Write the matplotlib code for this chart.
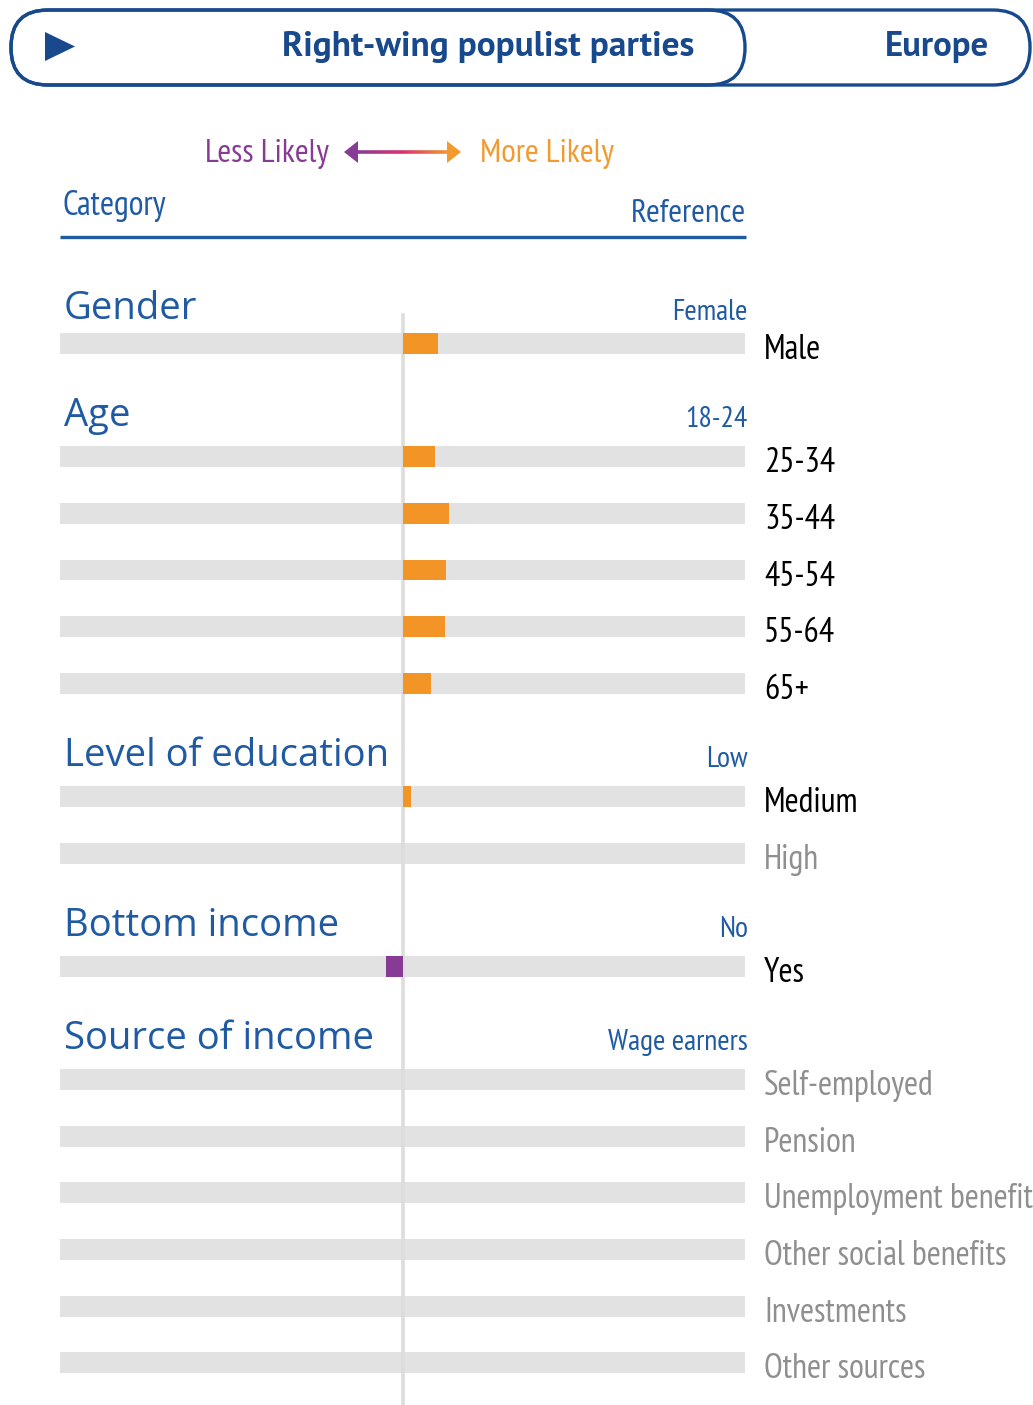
import numpy as np
import matplotlib
matplotlib.use("Agg")
import matplotlib.pyplot as plt
from matplotlib import font_manager, transforms
from matplotlib.patches import FancyBboxPatch, Polygon
from matplotlib.collections import LineCollection
from matplotlib.colors import LinearSegmentedColormap

# ---------------- data ----------------
title = "Right-wing populist parties"
region = "Europe"
groups = ["Gender", "Age", "Level of education", "Bottom income", "Source of income"]
references = ["Female", "18-24", "Low", "No", "Wage earners"]
gender_items = ["Male"]
gender_vals = [0.104]
age_items = ["25-34", "35-44", "45-54", "55-64", "65+"]
age_vals = [0.096, 0.137, 0.126, 0.125, 0.084]
edu_items = ["Medium", "High"]
edu_vals = [0.025, 0.0]
bottom_items = ["Yes"]
bottom_vals = [-0.049]
source_items = ["Self-employed", "Pension", "Unemployment benefit",
                "Other social benefits", "Investments", "Other sources"]
source_vals = [0.0, 0.0, 0.0, 0.0, 0.0, 0.0]

group_items = [gender_items, age_items, edu_items, bottom_items, source_items]
group_vals = [gender_vals, age_vals, edu_vals, bottom_vals, source_vals]

# ---------------- fonts ----------------
avail = {f.name for f in font_manager.fontManager.ttflist}


def pick(cands):
    for c in cands:
        if c in avail:
            return c
    return "DejaVu Sans"


NARROW = pick(["PT Sans Narrow", "Fira Sans Condensed", "Roboto Condensed",
               "Liberation Sans Narrow"])
HEAD = pick(["Open Sans", "Noto Sans"])
TITLEF = pick(["PT Sans", "Fira Sans", "Open Sans"])

BLUE = "#1f5aa3"
DARK = "#17498c"
ORANGE = "#f39427"
PURPLE = "#873b94"
GREYBAR = "#e2e2e2"
GREYTXT = "#8f8f8f"

W, H = 1033, 1405
fig = plt.figure(figsize=(W / 100, H / 100), dpi=100)
fig.patch.set_facecolor("white")

bg = fig.add_axes([0, 0, 1, 1])
bg.set_xlim(0, W)
bg.set_ylim(H, 0)
bg.axis("off")

# ---- header pill ----
outer = FancyBboxPatch((11, 10), 1019, 75, boxstyle="round,pad=0,rounding_size=37",
                       fc="none", ec=DARK, lw=2.4, zorder=2)
inner = FancyBboxPatch((11, 10), 734, 75, boxstyle="round,pad=0,rounding_size=37",
                       fc="none", ec=DARK, lw=2.4, zorder=3)
bg.add_patch(outer)
bg.add_patch(inner)
bg.add_patch(Polygon([[45, 32], [45, 61], [75, 46.5]], closed=True, fc=DARK, ec="none"))
bg.text(488, 47, title, ha="center", va="center", fontsize=25.5, fontweight="bold",
        family=TITLEF, color=DARK)
bg.text(937, 47, region, ha="center", va="center", fontsize=25, fontweight="bold",
        family=TITLEF, color=DARK)

# ---- likelihood arrow ----
bg.text(329, 154, "Less Likely", ha="right", va="center", fontsize=24, family=NARROW,
        color=PURPLE)
bg.text(480, 154, "More Likely", ha="left", va="center", fontsize=24, family=NARROW,
        color="#f39a2e")
cmap = LinearSegmentedColormap.from_list("lm", [PURPLE, "#d8336e", "#f39a2e"])
xs = np.linspace(355, 450, 60)
segs = [[(xs[i], 152), (xs[i + 1], 152)] for i in range(len(xs) - 1)]
lc = LineCollection(segs, colors=[cmap(i / (len(xs) - 2)) for i in range(len(xs) - 1)],
                    linewidths=2.6)
bg.add_collection(lc)
bg.add_patch(Polygon([[344, 152], [358, 141], [358, 163]], closed=True, fc=PURPLE, ec="none"))
bg.add_patch(Polygon([[461, 152], [447, 141], [447, 163]], closed=True, fc="#f39a2e", ec="none"))

# ---- column header ----
bg.text(62, 206, "Category", ha="left", va="center", fontsize=24.5, family=NARROW, color=BLUE)
bg.text(746, 214, "Reference", ha="right", va="center", fontsize=24, family=NARROW, color=BLUE)
bg.plot([60, 746], [237, 237], color=BLUE, lw=2.4, solid_capstyle="butt")

# ---------------- bars ----------------
ax = fig.add_axes([60 / W, 0, 685 / W, 1])
ax.set_xlim(-1, 1)
slot0, slot_h = 286.9, 56.62
ax.set_ylim((H - slot0) / slot_h, -slot0 / slot_h)
ax.axis("off")

rows = []      # (slot, label, value)
headers = []   # (slot, group, reference)
s = 0
for g, ref, items, vals in zip(groups, references, group_items, group_vals):
    headers.append((s, g, ref))
    s += 1
    for it, v in zip(items, vals):
        rows.append((s, it, v))
        s += 1

bh = 0.37
slots = [r[0] for r in rows]
vals = [r[2] for r in rows]
ax.barh(slots, [2] * len(slots), left=-1, height=bh, color=GREYBAR, zorder=1)
ax.axvline(0, ymin=0, ymax=(H - 315) / H, color="#dddddd", lw=2.6, zorder=2)
colors = [ORANGE if v > 0 else PURPLE for v in vals]
ax.barh(slots, vals, left=0, height=bh, color=colors, zorder=3)

tr = transforms.blended_transform_factory(bg.transData, ax.transData)
for sl, lab, v in rows:
    ax.text(764, sl + 0.275, lab, transform=tr, ha="left", va="baseline", fontsize=24.5,
            family=NARROW, color="black" if v != 0 else GREYTXT, clip_on=False)
for i, (sl, g, ref) in enumerate(headers):
    off = 0.56 if i == 0 else 0.46
    ax.text(64, sl + off, g, transform=tr, ha="left", va="baseline", fontsize=27.5,
            family=HEAD, color=BLUE, clip_on=False)
    ax.text(748, sl + off + 0.02, ref, transform=tr, ha="right", va="baseline", fontsize=21.5,
            family=NARROW, color=BLUE, clip_on=False)

fig.savefig("out.png", dpi=100, facecolor="white")
